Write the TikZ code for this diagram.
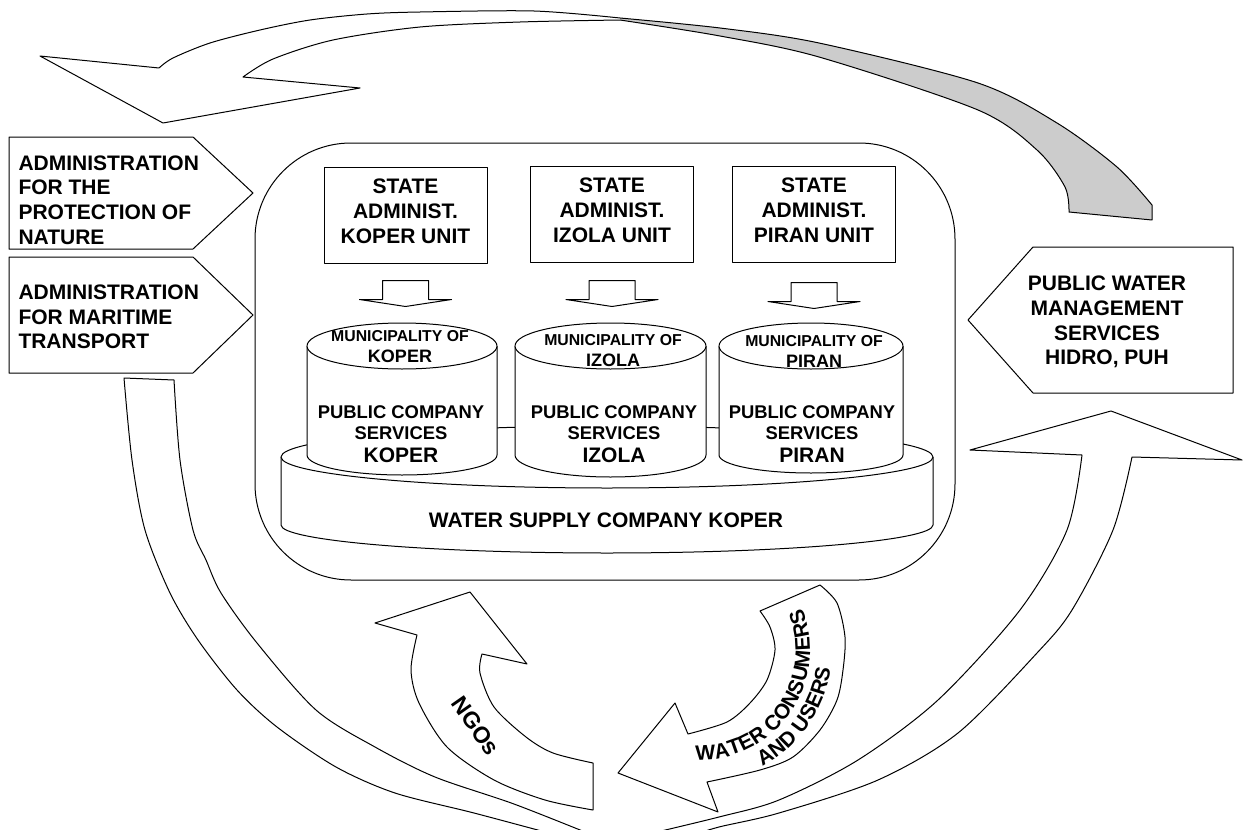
\documentclass[tikz,border=0pt]{standalone}
\usepackage{fontspec}
\setmainfont{Liberation Sans}
\usetikzlibrary{positioning,decorations.text}

\begin{document}
\begin{tikzpicture}[x=0.5pt, y=-0.5pt, line width=0.5pt, line join=round]
    % Estilos
    \tikzstyle{rotulo}=[font=\bfseries\fontsize{10.5}{12.35}\selectfont, inner sep=0pt]
    \tikzstyle{caixa}=[draw, rotulo, align=center, minimum width=81.5pt, minimum height=48pt]
    \tikzstyle{servico}=[font=\bfseries\fontsize{9.2}{10.5}\selectfont, inner sep=0pt, align=center]
    \tikzstyle{municipio}=[font=\bfseries\fontsize{7.9}{10.5}\selectfont, inner sep=0pt, align=center]

    \useasboundingbox (0,0) rectangle (1243,830);

    % Seta de cima
    \fill[black!20] plot[smooth] coordinates {(620,18) (720,28) (819,43) (978,83) (1057,123) (1117,167) (1152,205)} -- (1152,220) -- (1069,212) -- plot[smooth] coordinates {(1069,212) (1065,187) (1037,150) (978,110) (819,57) (720,36) (620,20)} -- cycle;
    \draw (40,56) -- (159,68) -- plot[smooth] coordinates {(159,68) (173,58) (210,43) (260,30) (310,20) (367,14) (420,12) (534,11) (620,18)} -- plot[smooth] coordinates {(620,18) (720,28) (819,43) (978,83) (1057,123) (1117,167) (1152,205)} -- (1152,220) -- (1069,212) -- plot[smooth] coordinates {(1069,212) (1065,187) (1037,150) (978,110) (819,57) (720,36) (620,20)} -- plot[smooth] coordinates {(620,20) (520,22) (420,27) (333,40) (273,59) (243,77)} -- (360,88) -- (163,123) -- cycle;

    % Caixas laterais
    \draw (9,137) -- (193,137) -- (253,193) -- (193,249) -- (9,249) -- cycle;
    \draw (9,257) -- (193,257) -- (253,315) -- (193,373) -- (9,373) -- cycle;
    \draw (1233,247) -- (1033,247) -- (968,320) -- (1033,393) -- (1233,393) -- cycle;
    \node[rotulo, align=left, anchor=west] (apn) at (18,200) {ADMINISTRATION\\FOR THE\\PROTECTION OF\\NATURE};
    \node[rotulo, align=left, anchor=west] (atm) at (18,317) {ADMINISTRATION\\FOR MARITIME\\TRANSPORT};
    \node[rotulo, align=center] (hidro) at (1107,322) {PUBLIC WATER\\MANAGEMENT\\SERVICES\\HIDRO, PUH};

    % Quadro central
    \node[draw, rounded corners=48pt, minimum width=350pt, minimum height=218.5pt] (quadro) at (605,361.5) {};

    % Unidades administrativas
    \node[caixa] (ek) at (405.5,215) {STATE\\ADMINIST.\\KOPER UNIT\rule[-4pt]{0pt}{4pt}};
    \node[caixa] (ei) at (612,214) {STATE\\ADMINIST.\\IZOLA UNIT\rule[-4pt]{0pt}{4pt}};
    \node[caixa] (ep) at (814,214) {STATE\\ADMINIST.\\PIRAN UNIT\rule[-4pt]{0pt}{4pt}};

    % Setas para os municipios
    \draw ([shift={(-23,17)}]ek.south) -- ++(46,0) -- ++(0,19) -- ++(23,0) -- ++(-46,7) -- ++(-46,-7) -- ++(23,0) -- cycle;
    \draw ([shift={(-23,18)}]ei.south) -- ++(46,0) -- ++(0,19) -- ++(23,0) -- ++(-46,7) -- ++(-46,-7) -- ++(23,0) -- cycle;
    \draw ([shift={(-23,20)}]ep.south) -- ++(46,0) -- ++(0,19) -- ++(23,0) -- ++(-46,7) -- ++(-46,-7) -- ++(23,0) -- cycle;

    % Empresa de abastecimento
    \draw[fill=white] (281,457) -- (281,525) arc[start angle=180, end angle=360, x radius=163pt, y radius=14pt] -- (933,457);
    \draw[fill=white] (607,457) ellipse[x radius=163pt, y radius=15.5pt];
    \node[rotulo] (wsk) at (606,520) {WATER SUPPLY COMPANY KOPER};

    % Cilindros
    \draw[fill=white] (307,346) -- (307,455) arc[start angle=180, end angle=360, x radius=47.5pt, y radius=10pt] -- (497,346);
    \draw[fill=white] (402,346) ellipse[x radius=47.5pt, y radius=11.5pt];
    \draw[fill=white] (515,346) -- (515,455) arc[start angle=180, end angle=360, x radius=47.75pt, y radius=11pt] -- (706,346);
    \draw[fill=white] (610.5,346) ellipse[x radius=47.75pt, y radius=11.5pt];
    \draw[fill=white] (719,346) -- (719,455) arc[start angle=180, end angle=360, x radius=46pt, y radius=9pt] -- (903,346);
    \draw[fill=white] (811,346) ellipse[x radius=46pt, y radius=11.5pt];

    \node[municipio] (mk) at (400,347) {MUNICIPALITY OF\\{\fontsize{9}{10.5}\selectfont KOPER}};
    \node[municipio] (mi) at (613,351) {MUNICIPALITY OF\\{\fontsize{9}{10.5}\selectfont IZOLA}};
    \node[municipio] (mp) at (814,351) {MUNICIPALITY OF\\{\fontsize{9}{10.5}\selectfont PIRAN}};
    \node[servico] (sk) at (401,434.5) {PUBLIC COMPANY\\SERVICES\\[1pt]{\fontsize{10.5}{12}\selectfont KOPER}};
    \node[servico] (si) at (614,434.5) {PUBLIC COMPANY\\SERVICES\\[1pt]{\fontsize{10.5}{12}\selectfont IZOLA}};
    \node[servico] (sp) at (812,434.5) {PUBLIC COMPANY\\SERVICES\\[1pt]{\fontsize{10.5}{12}\selectfont PIRAN}};

    % Faixas laterais
    \draw plot[smooth] coordinates {(124,378) (132,460) (145,530) (170,593) (198,640) (237,690) (277,727) (336,767) (395,793) (474,813) (560,836)} -- (595,836) -- plot[smooth] coordinates {(595,836) (514,804) (435,777) (375,747) (316,710) (257,643) (221,593) (206,560) (193,530) (180,460) (174,380)} -- cycle;
    \draw (1111,411) -- (1242,460) -- (1132,457) -- plot[smooth] coordinates {(1132,457) (1113,530) (1072,610) (1037,653) (958,733) (878,780) (779,813) (719,827) (690,836)} -- (640,836) -- plot[smooth] coordinates {(640,836) (719,817) (779,800) (858,760) (938,700) (1020,610) (1067,530) (1082,455)} -- (970,450) -- cycle;

    % ONGs
    \draw (470,592) -- (527,664) -- (482,654) -- plot[smooth] coordinates {(482,654) (480,673) (494,707) (526,737) (553,753) (593,763)} -- (593,810) -- plot[smooth] coordinates {(593,810) (545,800) (494,780) (447,747) (419,703) (411,670) (417,635)} -- (375,623) -- cycle;
    \node[rotulo, font=\bfseries\fontsize{11.5}{13}\selectfont, rotate=-55] (ngo) at (476,726) {NGOs};

    % Consumidores
    \draw (618,773) -- (675,703) -- (688,734) -- plot[smooth] coordinates {(688,734) (727,722) (750,703) (767,680) (775,650) (770,627) (760,611)} -- (820,585) -- plot[smooth] coordinates {(820,585) (837,603) (845,637) (843,670) (837,700) (820,730) (793,757) (760,770) (707,782)} -- (718,812) -- cycle;
    \coordinate (cw) at (700,650);
    \path[decorate, decoration={text along path, text align=center, text={|\bfseries\fontsize{10.5}{12}\selectfont|WATER CONSUMERS}}] ([shift={(-100:55pt)}]cw) arc[start angle=-100, end angle=30, radius=55pt];
    \path[decorate, decoration={text along path, text align=center, text={|\bfseries\fontsize{10.5}{12}\selectfont|AND USERS}}] ([shift={(-90:66pt)}]cw) arc[start angle=-90, end angle=20, radius=66pt];
\end{tikzpicture}
\end{document}
